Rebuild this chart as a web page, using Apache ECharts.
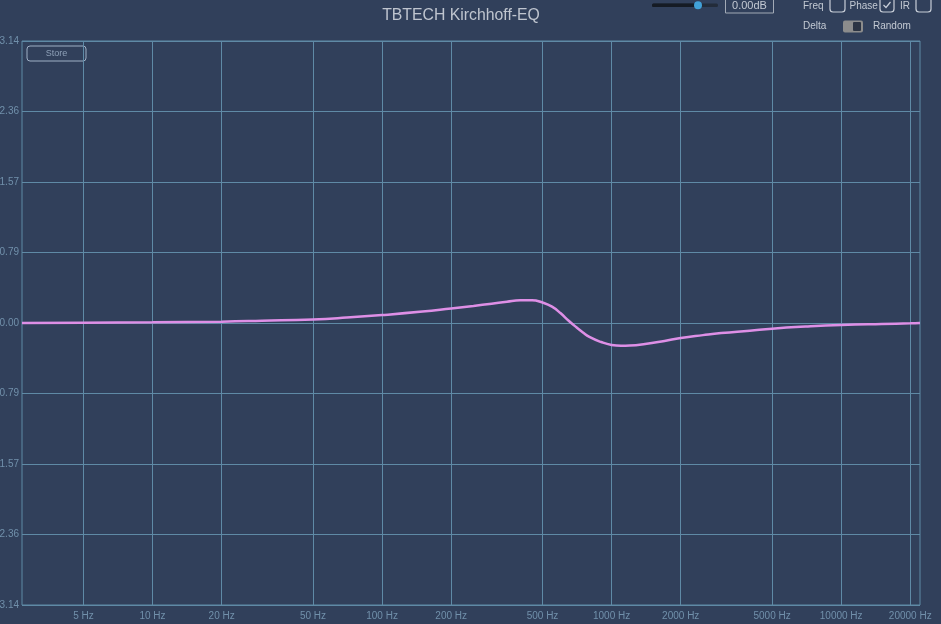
<!DOCTYPE html>
<html><head><meta charset="utf-8">
<script src="https://cdn.jsdelivr.net/npm/echarts@6/dist/echarts.min.js"></script>
<style>html,body{margin:0;padding:0;background:#31405b;}#c{width:941px;height:624px;}</style>
</head><body><div id="c"></div>
<script>
const titleText = 'TBTECH Kirchhoff-EQ';
const freqTicks = [5, 10, 20, 50, 100, 200, 500, 1000, 2000, 5000, 10000, 20000];
const freqs = [2.7, 5, 10, 20, 30, 50, 70, 100, 150, 200, 250, 300, 350, 400, 450, 500, 550, 600, 650, 700, 750, 800, 900, 1000, 1100, 1200, 1400, 1700, 2000, 2500, 3000, 4000, 5000, 7000, 10000, 15000, 20000, 22050];
const phase = [0.0, 0.003, 0.007, 0.015, 0.025, 0.04, 0.06, 0.088, 0.127, 0.162, 0.19, 0.215, 0.238, 0.253, 0.254, 0.228, 0.182, 0.108, 0.025, -0.045, -0.105, -0.155, -0.212, -0.245, -0.254, -0.252, -0.235, -0.2, -0.167, -0.135, -0.112, -0.085, -0.063, -0.04, -0.022, -0.01, -0.004, 0.0];

const gridCol = '#5f8aa6';
const labelCol = '#7190ab';
const uiText = '#c3c9d3';
const uiFont = 'Liberation Sans';

const chart = echarts.init(document.getElementById('c'), null, {renderer: 'canvas'});
chart.setOption({
  backgroundColor: '#31405b',
  animation: false,
  grid: {left: 22, right: 21, top: 41, bottom: 19, containLabel: false, outerBoundsMode: 'none',
    show: true, borderColor: gridCol, borderWidth: 1, backgroundColor: 'transparent'},
  xAxis: {
    type: 'log', min: 2.7, max: 22050, logBase: 10,
    axisLine: {show: false},
    axisTick: {show: false, customValues: freqTicks},
    axisLabel: {customValues: freqTicks, color: labelCol, fontSize: 10, fontFamily: uiFont, margin: 6,
      formatter: v => v + ' Hz'},
    splitLine: {show: true, lineStyle: {color: gridCol, width: 1}},
    minorSplitLine: {show: false}
  },
  yAxis: {
    type: 'value', min: -Math.PI, max: Math.PI, interval: Math.PI / 4,
    axisLine: {show: false}, axisTick: {show: false},
    axisLabel: {color: labelCol, fontSize: 10, fontFamily: uiFont, margin: 3,
      formatter: v => (Math.abs(v) < 1e-9 ? 0 : v).toFixed(2)},
    splitLine: {show: true, lineStyle: {color: gridCol, width: 1}}
  },
  series: [{
    type: 'line', data: freqs.map((f, i) => [f, phase[i]]),
    showSymbol: false, smooth: 0.5,
    lineStyle: {color: '#de8fe6', width: 2.5}
  }],
  graphic: [
    {type: 'text', x: 461, y: 16, style: {text: titleText, fill: '#bfc5cf', fontSize: 15.8, fontFamily: uiFont, align: 'center', verticalAlign: 'middle'}},
    {type: 'rect', shape: {x: 27, y: 46, width: 59, height: 15, r: 3},
      style: {fill: 'transparent', stroke: '#9fb0c6', lineWidth: 1}},
    {type: 'text', x: 56.5, y: 54, style: {text: 'Store', fill: '#8ea0b8', fontSize: 9, fontFamily: uiFont, align: 'center', verticalAlign: 'middle'}},
    // slider
    {type: 'rect', shape: {x: 652, y: 3.5, width: 66, height: 3.5, r: 1.5}, style: {fill: '#232c3a'}},
    {type: 'rect', shape: {x: 652, y: 3.5, width: 46, height: 3.5, r: 1.5}, style: {fill: '#151b24'}},
    {type: 'circle', shape: {cx: 698, cy: 5.2, r: 4}, style: {fill: '#41a1d8'}},
    {type: 'rect', shape: {x: 725.5, y: -1, width: 48, height: 14}, style: {fill: 'transparent', stroke: '#a2aab6', lineWidth: 1}},
    {type: 'text', x: 749.5, y: 6, style: {text: '0.00dB', fill: uiText, fontSize: 11, fontFamily: uiFont, align: 'center', verticalAlign: 'middle'}},
    // checkboxes
    {type: 'text', x: 803, y: 6, style: {text: 'Freq', fill: uiText, fontSize: 10, fontFamily: uiFont, verticalAlign: 'middle'}},
    {type: 'rect', shape: {x: 830, y: -3, width: 15, height: 15, r: 3}, style: {fill: 'transparent', stroke: '#c8ced8', lineWidth: 1.2}},
    {type: 'text', x: 849.5, y: 6, style: {text: 'Phase', fill: uiText, fontSize: 10, fontFamily: uiFont, verticalAlign: 'middle'}},
    {type: 'rect', shape: {x: 880, y: -3, width: 14, height: 15, r: 3}, style: {fill: 'transparent', stroke: '#c8ced8', lineWidth: 1.2}},
    {type: 'polyline', shape: {points: [[883.5, 5], [886, 7.5], [890.5, 2]]}, style: {fill: 'none', stroke: '#c8ced8', lineWidth: 1.2}},
    {type: 'text', x: 900, y: 6, style: {text: 'IR', fill: uiText, fontSize: 10, fontFamily: uiFont, verticalAlign: 'middle'}},
    {type: 'rect', shape: {x: 916, y: -3, width: 15, height: 15, r: 3}, style: {fill: 'transparent', stroke: '#c8ced8', lineWidth: 1.2}},
    {type: 'text', x: 803, y: 26.5, style: {text: 'Delta', fill: uiText, fontSize: 10, fontFamily: uiFont, verticalAlign: 'middle'}},
    {type: 'rect', shape: {x: 843, y: 20.5, width: 20, height: 12, r: 2}, style: {fill: '#8c8c8c'}},
    {type: 'rect', shape: {x: 853, y: 22, width: 8, height: 9, r: 1}, style: {fill: '#2c3443'}},
    {type: 'text', x: 873, y: 26.5, style: {text: 'Random', fill: uiText, fontSize: 10, fontFamily: uiFont, verticalAlign: 'middle'}}
  ]
});
</script></body></html>
